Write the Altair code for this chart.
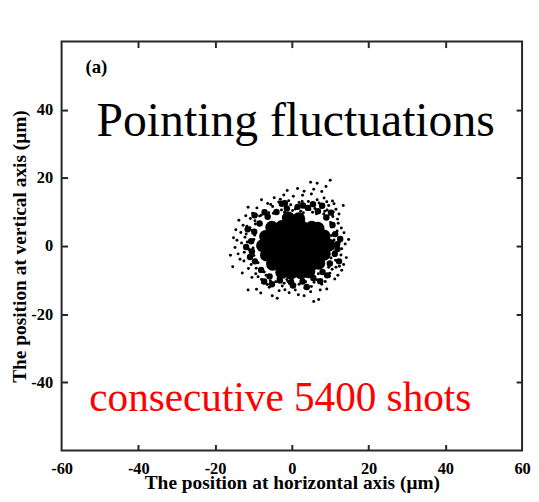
import altair as alt
import pandas as pd

# ---- data (micrometres) ----
# dense, solid-looking core of the shot cloud
core_x = [-0.9, 1.8,
          -5.2, -2.6, 0.0, 2.6, 5.2, 6.8,
          -6.8, -4.2, -1.6, 1.0, 3.6, 6.2, 8.4,
          -7.6, -5.0, -2.4, 0.2, 2.8, 5.4, 8.0, 9.6,
          -6.6, -4.0, -1.4, 1.2, 3.8, 6.4, 8.4,
          -5.0, -2.4, 0.2, 2.8, 5.4, 7.0,
          -2.6, -0.2, 2.4, 4.4]
core_y = [8.2, 8.0,
          5.5, 5.7, 5.4, 5.6, 5.5, 5.2,
          2.8, 2.9, 2.7, 2.9, 2.8, 2.6, 2.9,
          0.1, 0.2, 0.0, 0.1, 0.2, -0.1, 0.1, 0.3,
          -2.6, -2.5, -2.7, -2.6, -2.5, -2.7, -2.4,
          -5.3, -5.2, -5.4, -5.3, -5.2, -5.0,
          -7.7, -7.9, -7.8, -7.5]

# crowded shots at the rim of the core
rim_x = [11.8, 11.3, 10.6, 9.0, 6.8, 4.2, 1.5, -1.3, -4.0, -6.3, -8.4, -9.8, -10.6, -10.4,
         -9.6, -8.0, -5.8, -3.1, -0.2, 2.8, 5.6, 8.0, 9.9, 11.2,
         12.6, 7.9, -2.6, -11.9, -7.2, 3.9, 12.3, -9.7, 10.2, -11.5,
         -10.9, 11.9, 5.5, -5.2, 0.3, -1.8, 7.4, -7.1, 9.2, 2.9]
rim_y = [0.5, 3.5, 6.2, 8.4, 10.2, 11.2, 11.5, 11.0, 10.0, 8.6, 6.6, 4.2, 1.4, -1.6,
         -4.5, -7.0, -8.9, -10.1, -10.6, -10.4, -9.4, -7.6, -5.1, -2.3,
         2.1, 11.8, 12.4, -0.3, -10.4, -12.0, -4.5, 9.0, 9.8, 4.9,
         -3.2, -0.9, 12.3, -11.2, -11.6, 12.6, -10.3, 9.9, -8.6, 11.9]

# scattered outer shots
fringe_x = [10.0, 4.9, 6.6, 5.7, 3.2, 7.8, -7.9, -4.6, -2.1, 0.4, 2.8, 5.1, 8.4, 10.6,
            -6.3, -3.4, -0.8, 1.9, 4.3, 7.1, 9.6, -9.1, -5.0, -1.6, 3.5, 6.0, 11.5, -7.4,
            -2.7, 0.9, 8.6, 12.3, -10.2, 13.4, -11.4,
            -15.2, -15.4, -14.6, -13.8, -12.7, -13.1, -14.0, -12.5, -11.9, -11.2, -10.8,
            -12.9, -11.3, -10.4, -13.5, -10.9, -11.6, -14.8, -16.0,
            -11.4, -9.2, -0.7, 4.9, 7.4, 5.7, 7.0, -7.6, -5.9, -4.2, -2.5, -1.3, 0.8,
            2.6, 3.4, 5.8, 8.7, 9.8, -8.8, -6.7, -3.3, 1.7, -5.1, 11.2,
            13.0, 13.0, 12.1, 13.6, 11.4, 12.8, 11.0, 12.4, 13.9, 10.7, 11.8, 10.5, 14.2,
            -9.5, -8.8, -9.9, -9.7, -8.4, -7.2, 10.3, 11.1, 10.2, 9.6, 8.3, -1.0, 4.1,
            6.9, -4.8, 2.3, 5.4,
            -6.0, -3.9, -1.9, 0.2, 1.4, 3.0, 4.7, 6.4, 7.7, 9.2, -8.0, -5.5, -0.3, 2.7,
            6.6, 9.1, -1.2, -3.0, 11.0, 1.5, 8.9,
            -10.3, -10.1, -9.9, -11.0, -10.6, -9.3, -12.2, -12.4, -11.7, -9.6, -13.3,
            -12.0, -9.4, -14.3,
            -7.9, -5.6, -3.6, -2.0, 0.1, 1.9, 3.6, 5.1, 6.5, 7.8, -6.4, -1.8, 0.9, 3.2,
            -8.1, 9.1, -3.8,
            10.4, 10.6, 10.9, 10.1, 11.9, 12.4, 11.5, 9.9, 12.9, 13.5, 12.0, 14.8, 10.8]
fringe_y = [19.3, 18.7, 18.4, 16.7, 16.1, 16.0, 13.6, 14.2, 15.0, 14.6, 14.9, 15.3, 14.1, 13.2,
            12.5, 12.9, 13.3, 12.8, 13.1, 12.6, 11.9, 11.2, 11.6, 11.9, 11.4, 11.0, 10.8, 10.3,
            10.6, 10.9, 10.2, 9.4, 9.6, 11.9, 11.4,
            2.4, -6.1, 4.8, 7.6, 6.1, 0.9, -2.3, -4.4, 3.5, -1.0, 8.1,
            -7.9, -6.6, -9.2, -3.9, 5.4, 1.2, -0.4, -2.7,
            -12.9, -12.7, -13.7, -13.4, -12.9, -16.3, -15.7, -10.8, -12.1, -10.5, -11.7, -9.8, -11.4,
            -10.1, -12.3, -10.6, -10.4, -8.9, -9.0, -8.6, -13.1, -14.3, -14.6, -9.7,
            -0.8, -7.1, 6.7, 3.9, -4.2, -2.6, 1.8, -5.9, 0.6, 8.7, 4.4, -6.8, -3.4,
            6.5, -4.9, -2.8, 3.2, 8.8, -7.6, 5.6, -1.7, -3.5, -6.2, 9.4, -10.4, -8.9,
            -8.1, 9.6, 10.2, 9.9,
            9.8, 10.3, 9.9, 10.4, 11.6, 9.8, 10.7, 9.5, 11.3, 10.6, 9.0, 12.2, 12.1, 13.1,
            13.6, 13.0, 16.3, 13.7, 12.4, 16.9, 17.5,
            4.6, -0.6, 1.9, -3.3, -5.4, -6.5, 2.6, -1.8, 5.8, 7.4, 4.0,
            8.9, -8.1, 1.7,
            -9.8, -10.2, -9.5, -10.9, -10.0, -11.2, -10.5, -11.9, -9.9, -11.2, -11.3, -12.8, -12.9, -14.6,
            -13.8, -12.6, -15.3,
            3.1, -0.2, -2.6, 6.9, 7.9, 1.1, -6.2, -8.0, 5.3, -5.4, -8.6, 1.9, 10.0]

tick_values = [-60, -40, -20, 0, 20, 40, 60]
inner_ticks = [-40, -20, 0, 20, 40]

panel_label = "(a)"
title_text = "Pointing fluctuations"
note_text = "consecutive 5400 shots"

# ---- layout / style ----
W, H = 464, 412
FONT = "Liberation Serif"
DARK = "#262626"

core = pd.DataFrame({"x": core_x, "y": core_y})
rim = pd.DataFrame({"x": rim_x, "y": rim_y})
fringe = pd.DataFrame({"x": fringe_x, "y": fringe_y})

xs = alt.Scale(domain=[-60, 60], nice=False, zero=False)
ys = alt.Scale(domain=[-60, 60], nice=False, zero=False)

label_x_axis = alt.Axis(values=tick_values, ticks=False, domain=False, grid=False,
                        labelExpr="'' + datum.value", labelFlush=False,
                        labelFont=FONT, labelFontWeight="bold", labelFontSize=16.5,
                        labelColor="black", labelPadding=10,
                        title="The position at horizontal axis (μm)",
                        titleFont=FONT, titleFontWeight="bold", titleFontSize=19.5,
                        titleColor="black", titlePadding=-3)
label_y_axis = alt.Axis(values=inner_ticks, ticks=False, domain=False, grid=False,
                        labelExpr="'' + datum.value",
                        labelFont=FONT, labelFontWeight="bold", labelFontSize=16.5,
                        labelColor="black", labelPadding=9,
                        title="The position at vertical axis (μm)",
                        titleFont=FONT, titleFontWeight="bold", titleFontSize=19.5,
                        titleColor="black", titlePadding=1)


def tick_axis(orient, offset):
    return alt.Axis(orient=orient, offset=offset, values=inner_ticks, labels=False,
                    domain=False, grid=False, title=None, ticks=True, tickSize=6,
                    tickWidth=2, tickColor=DARK)


core_layer = alt.Chart(core).mark_circle(size=175, color="black", opacity=1).encode(
    x=alt.X("x:Q", scale=xs, axis=label_x_axis),
    y=alt.Y("y:Q", scale=ys, axis=label_y_axis),
)

rim_layer = alt.Chart(rim).mark_circle(size=42, color="black", opacity=1).encode(
    x=alt.X("x:Q", scale=xs, axis=None),
    y=alt.Y("y:Q", scale=ys, axis=None),
)

fringe_layer = alt.Chart(fringe).mark_circle(size=9, color="black", opacity=1).encode(
    x=alt.X("x:Q", scale=xs, axis=tick_axis("top", -H)),
    y=alt.Y("y:Q", scale=ys, axis=tick_axis("right", -W)),
)

title_layer = alt.Chart(pd.DataFrame({"x": [1.0], "y": [32.4], "t": [title_text]})).mark_text(
    font=FONT, fontSize=48, color="black", align="center", baseline="alphabetic"
).encode(
    x=alt.X("x:Q", scale=xs, axis=tick_axis("bottom", -H)),
    y=alt.Y("y:Q", scale=ys, axis=tick_axis("left", -W)),
    text="t:N",
)

note_layer = alt.Chart(pd.DataFrame({"x": [-3.0], "y": [-48.4], "t": [note_text]})).mark_text(
    font=FONT, fontSize=41.5, color="#ff0000", align="center", baseline="alphabetic"
).encode(
    x=alt.X("x:Q", scale=xs, axis=None),
    y=alt.Y("y:Q", scale=ys, axis=None),
    text="t:N",
)

panel_layer = alt.Chart(pd.DataFrame({"x": [-53.8], "y": [50.7], "t": [panel_label]})).mark_text(
    font=FONT, fontSize=19, fontWeight="bold", color="black", align="left", baseline="alphabetic"
).encode(
    x=alt.X("x:Q", scale=xs, axis=None),
    y=alt.Y("y:Q", scale=ys, axis=None),
    text="t:N",
)

chart = alt.layer(core_layer, rim_layer, fringe_layer, title_layer, note_layer,
                  panel_layer).resolve_axis(
    x="independent", y="independent"
).properties(
    width=W, height=H,
    autosize=alt.AutoSizeParams(type="none"),
    padding={"left": 54, "top": 32, "right": 9, "bottom": 42},
    background="white",
).configure_view(stroke=DARK, strokeWidth=2, fill="white")

chart.save("out.html", embed_options={"renderer": "svg", "actions": False})
